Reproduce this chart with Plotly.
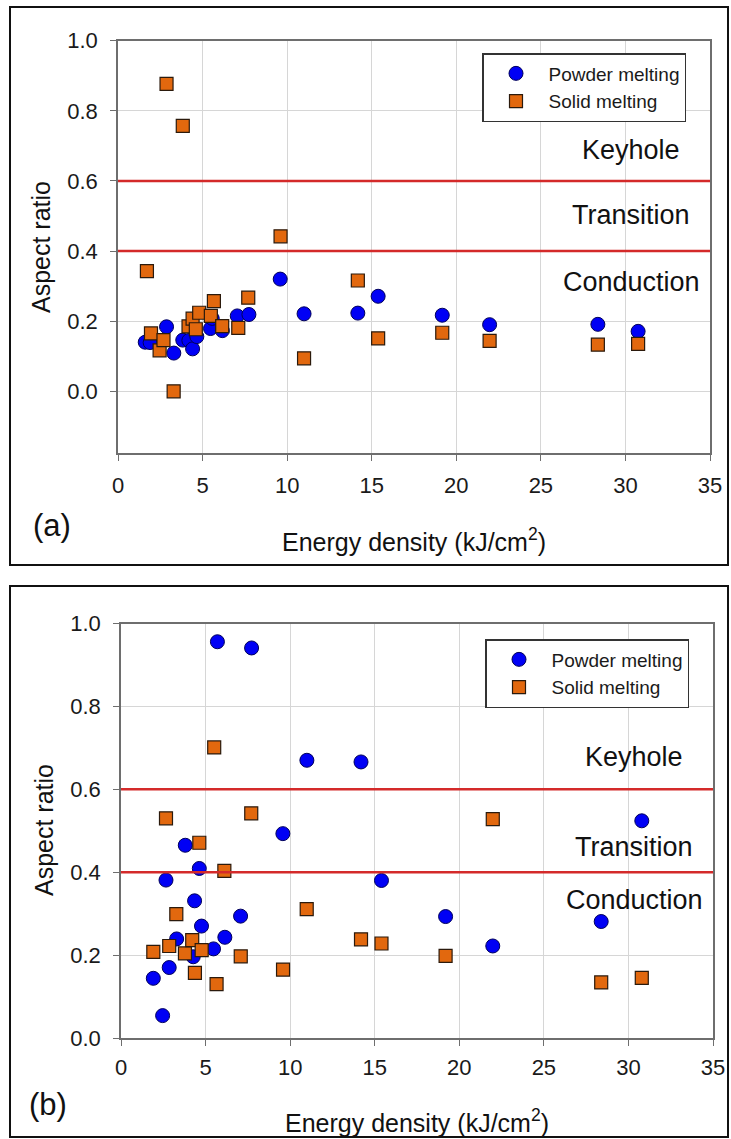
import plotly.graph_objects as go

W, H = 731, 1139

# ---------------- data ----------------
# Panel (a)
a_powder_x = [1.61, 1.90, 2.87, 3.30, 3.83, 4.19, 4.41, 4.66, 5.47, 5.57, 6.17, 7.05, 7.74,
              9.59, 11.0, 14.18, 15.38, 19.17, 21.97, 28.37, 30.75]
a_powder_y = [0.140, 0.139, 0.184, 0.109, 0.146, 0.145, 0.121, 0.156, 0.179, 0.208, 0.173, 0.215, 0.219,
              0.320, 0.221, 0.223, 0.271, 0.217, 0.190, 0.191, 0.171]
a_solid_x = [1.71, 1.95, 2.46, 2.69, 2.87, 3.29, 3.83, 4.17, 4.41, 4.60, 4.80, 5.49, 5.67, 6.16,
             7.11, 7.70, 9.61, 11.0, 14.18, 15.38, 19.17, 21.97, 28.37, 30.75]
a_solid_y = [0.343, 0.165, 0.117, 0.146, 0.877, 0.0, 0.757, 0.185, 0.207, 0.177, 0.224, 0.215, 0.257, 0.186,
             0.181, 0.267, 0.442, 0.094, 0.316, 0.151, 0.167, 0.144, 0.133, 0.135]

# Panel (b)
b_powder_x = [1.91, 2.46, 2.66, 2.85, 3.29, 3.80, 4.27, 4.35, 4.63, 4.76, 5.47, 5.70, 6.14, 7.07,
              7.72, 9.57, 10.99, 14.19, 15.40, 19.19, 21.98, 28.39, 30.79]
b_powder_y = [0.144, 0.054, 0.381, 0.170, 0.239, 0.465, 0.196, 0.331, 0.409, 0.270, 0.215, 0.956, 0.243, 0.294,
              0.941, 0.493, 0.670, 0.666, 0.380, 0.293, 0.222, 0.281, 0.524]
b_solid_x = [1.91, 2.66, 2.85, 3.27, 3.78, 4.21, 4.37, 4.63, 4.77, 5.51, 5.65, 6.11, 7.08, 7.70,
             9.58, 10.98, 14.19, 15.40, 19.19, 21.98, 28.39, 30.79]
b_solid_y = [0.208, 0.530, 0.222, 0.299, 0.204, 0.236, 0.157, 0.471, 0.212, 0.701, 0.130, 0.403, 0.197, 0.542,
             0.165, 0.311, 0.238, 0.228, 0.198, 0.528, 0.134, 0.145]

series_names = ["Powder melting", "Solid melting"]
x_ticks = [0, 5, 10, 15, 20, 25, 30, 35]
y_ticks = [0.0, 0.2, 0.4, 0.6, 0.8, 1.0]
thresholds = [0.4, 0.6]
regime_labels = ["Keyhole", "Transition", "Conduction"]
regime_y_a = [0.688, 0.503, 0.312]
regime_y_b = [0.677, 0.461, 0.334]
regime_x = 30.35
panel_labels = ["(a)", "(b)"]
x_title = "Energy density (kJ/cm<sup>2</sup>)"
y_title = "Aspect ratio"

# ---------------- styling ----------------
FONT = "Liberation Sans, Arial, sans-serif"
BLUE = "#0000F5"
BLUE_EDGE = "#00005A"
ORANGE = "#E2680E"
ORANGE_EDGE = "#2B1A0C"
RED = "#D42A2A"
GRID = "#D6D6D6"
FRAME = "#6E6E6E"
TXT = "#111111"


def px_x(p):
    return p / W


def px_y(p):
    return 1 - p / H


fig = go.Figure()

circle_marker = dict(symbol="circle", size=14, color=BLUE, line=dict(color=BLUE_EDGE, width=1))
square_marker = dict(symbol="square", size=13, color=ORANGE, line=dict(color=ORANGE_EDGE, width=1.2))

fig.add_trace(go.Scatter(x=a_powder_x, y=a_powder_y, mode="markers", name=series_names[0],
                         marker=circle_marker, xaxis="x", yaxis="y", legend="legend"))
fig.add_trace(go.Scatter(x=a_solid_x, y=a_solid_y, mode="markers", name=series_names[1],
                         marker=square_marker, xaxis="x", yaxis="y", legend="legend"))
fig.add_trace(go.Scatter(x=b_powder_x, y=b_powder_y, mode="markers", name=series_names[0],
                         marker=circle_marker, xaxis="x2", yaxis="y2", legend="legend2"))
fig.add_trace(go.Scatter(x=b_solid_x, y=b_solid_y, mode="markers", name=series_names[1],
                         marker=square_marker, xaxis="x2", yaxis="y2", legend="legend2"))

axis_common = dict(showgrid=True, gridcolor=GRID, gridwidth=1.4, showline=True, linecolor=FRAME,
                   linewidth=1.6, mirror=True, ticks="outside", ticklen=6, tickcolor=FRAME,
                   tickwidth=1.4, zeroline=False,
                   tickfont=dict(family=FONT, size=22, color="#1a1a1a"))

legend_common = dict(xanchor="left", yanchor="top", bgcolor="white", bordercolor="#333333",
                     borderwidth=1.5, font=dict(family=FONT, size=19, color="#1a1a1a"),
                     itemwidth=55, tracegroupgap=0)

fig.update_layout(
    width=W, height=H, margin=dict(l=0, r=0, t=0, b=0, autoexpand=False),
    paper_bgcolor="white", plot_bgcolor="white", showlegend=True,
    xaxis=dict(axis_common, domain=[px_x(118), px_x(710)], range=[0, 35], tickvals=x_ticks,
               anchor="y", ticklabelstandoff=6),
    yaxis=dict(axis_common, domain=[px_y(453), px_y(40.7)], range=[-0.176, 1.0], tickvals=y_ticks,
               tickformat=".1f", anchor="x", ticklabelstandoff=8),
    xaxis2=dict(axis_common, domain=[px_x(121), px_x(713)], range=[0, 35], tickvals=x_ticks,
                anchor="y2", ticklabelstandoff=3),
    yaxis2=dict(axis_common, domain=[px_y(1038), px_y(623.5)], range=[0, 1.0], tickvals=y_ticks,
                tickformat=".1f", anchor="x2", ticklabelstandoff=8),
    legend=dict(legend_common, x=px_x(482), y=px_y(53)),
    legend2=dict(legend_common, x=px_x(485), y=px_y(639)),
)

# threshold lines
for xr, yr in (("x", "y"), ("x2", "y2")):
    for t in thresholds:
        fig.add_shape(type="line", xref=f"{xr} domain", yref=yr, x0=0, x1=1, y0=t, y1=t,
                      line=dict(color=RED, width=2.5), layer="above")

# regime labels
for yr, xr, ys in (("y", "x", regime_y_a), ("y2", "x2", regime_y_b)):
    for lab, yy in zip(regime_labels, ys):
        fig.add_annotation(x=regime_x, y=yy, xref=xr, yref=yr, text=lab, showarrow=False,
                           xanchor="center", yanchor="middle",
                           font=dict(family=FONT, size=27, color=TXT))


def paper_text(x, y, text, size, angle=0):
    fig.add_annotation(x=px_x(x), y=px_y(y), xref="paper", yref="paper", text=text, showarrow=False,
                       xanchor="center", yanchor="middle", textangle=angle,
                       font=dict(family=FONT, size=size, color=TXT))


# axis titles
paper_text(414, 540, x_title, 25)
paper_text(417, 1121, x_title, 25)
paper_text(41, 247, y_title, 25, -90)
paper_text(44, 830, y_title, 25, -90)

# panel labels
paper_text(52, 525, panel_labels[0], 31)
paper_text(48, 1104, panel_labels[1], 31)

# outer panel frames
fig.add_shape(type="rect", xref="paper", yref="paper", x0=px_x(10), x1=px_x(728), y0=px_y(565), y1=px_y(7),
              line=dict(color=TXT, width=2))
fig.add_shape(type="rect", xref="paper", yref="paper", x0=px_x(10), x1=px_x(728), y0=px_y(1137), y1=px_y(586),
              line=dict(color=TXT, width=2))

fig.write_html(
    "out.html",
    config={"displayModeBar": False},
    post_script="document.body.style.margin='0px';document.body.style.overflow='hidden';",
)
